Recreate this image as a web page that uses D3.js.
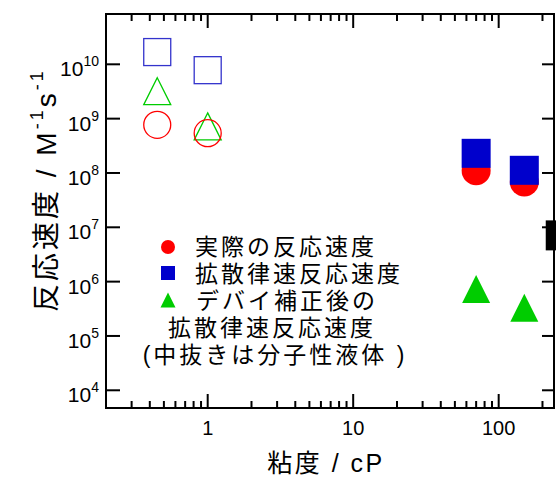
<!DOCTYPE html>
<html>
<head>
<meta charset="utf-8">
<script src="https://cdn.jsdelivr.net/npm/d3@7"></script>
<style>
  html, body { margin: 0; padding: 0; background: #fff; }
  svg { display: block; }
  text { font-family: "Liberation Sans", Arial, "Noto Sans CJK JP", sans-serif; fill: #000; }
  .jp { font-family: "Liberation Sans", "Noto Sans CJK JP", sans-serif; }
</style>
</head>
<body>
<div id="chart"></div>
<script>
// viscosity (cP) and rate constants (M^-1 s^-1)
const molecularViscosity = [0.45, 1.0];
const molecularActual = [7.7e8, 5.4e8];
const molecularDiffusion = [1.68e10, 7.8e9];
const molecularDebye = [3.2e9, 7.2e8];

const ionicViscosity = [70, 150];
const ionicActual = [1.1e8, 6.8e7];
const ionicDiffusion = [2.3e8, 1.12e8];
const ionicDebye = [7.3e5, 3.3e5];

// point sitting past the right edge of the frame
const extraViscosity = [267];
const extraRate = [7.1e6];

const xMajor = [1, 10, 100];
const xMinor = [0.3, 0.4, 0.5, 0.6, 0.7, 0.8, 0.9, 2, 3, 4, 5, 6, 7, 8, 9, 20, 30, 40, 50, 60, 70, 80, 90, 200];
const yMajor = [1e4, 1e5, 1e6, 1e7, 1e8, 1e9, 1e10];

const legendLines = ["実際の反応速度", "拡散律速反応速度", "デバイ補正後の", "拡散律速反応速度", "(中抜きは分子性液体 )"];

const width = 556, height = 477;
const margin = { left: 106, right: 2, top: 14, bottom: 69 };

const red = "#ff0000", blue = "#0000cc", green = "#00cc00";
const openBlue = "#3333cc";

const svg = d3.select("#chart").append("svg")
    .attr("width", width)
    .attr("height", height);

const x = d3.scaleLog()
    .domain([0.2, 240])
    .range([margin.left, width - margin.right]);

const y = d3.scaleLog()
    .domain([Math.pow(10, 3.674), Math.pow(10, 10.926)])
    .range([height - margin.bottom, margin.top]);

const x0 = x.range()[0], x1 = x.range()[1];
const y0 = y.range()[0], y1 = y.range()[1];

// ticks
const axes = svg.append("g").attr("stroke", "#000").attr("stroke-width", 2);

function xTicks(values, len) {
    values.forEach(v => {
        axes.append("line").attr("x1", x(v)).attr("x2", x(v)).attr("y1", y0).attr("y2", y0 - len);
        axes.append("line").attr("x1", x(v)).attr("x2", x(v)).attr("y1", y1).attr("y2", y1 + len);
    });
}
xTicks(xMajor, 14);
xTicks(xMinor, 7);

yMajor.forEach(v => {
    axes.append("line").attr("x1", x0).attr("x2", x0 + 14).attr("y1", y(v)).attr("y2", y(v));
    axes.append("line").attr("x1", x1).attr("x2", x1 - 12).attr("y1", y(v)).attr("y2", y(v));
});

// frame
axes.append("rect")
    .attr("x", x0).attr("y", y1)
    .attr("width", x1 - x0).attr("height", y0 - y1)
    .attr("fill", "none");

// tick labels
svg.append("g").selectAll("text")
    .data(xMajor)
    .enter().append("text")
    .attr("x", d => x(d))
    .attr("y", 435)
    .attr("text-anchor", "middle")
    .attr("font-size", 20)
    .text(d => d);

const yl = svg.append("g").selectAll("text")
    .data(yMajor)
    .enter().append("text")
    .attr("x", 99)
    .attr("y", d => y(d) + 12)
    .attr("text-anchor", "end")
    .attr("font-size", 21);
yl.append("tspan").text("10");
yl.append("tspan").attr("font-size", 14).attr("dy", -10).text(d => Math.round(Math.log10(d)));

// axis titles
svg.append("text")
    .attr("class", "jp")
    .attr("x", 326)
    .attr("y", 472)
    .attr("text-anchor", "middle")
    .attr("font-size", 25)
    .attr("letter-spacing", 2.5)
    .text("粘度 / cP");

const yt = svg.append("text")
    .attr("class", "jp")
    .attr("transform", "translate(56,312) rotate(-90)")
    .attr("font-size", 28)
    .attr("letter-spacing", 3);
yt.append("tspan").text("反応速度 / M");
yt.append("tspan").attr("font-size", 18).attr("dy", -13).text("-1");
yt.append("tspan").attr("dy", 13).text("s");
yt.append("tspan").attr("font-size", 18).attr("dy", -13).text("-1");

// markers
const sq = 27, sqF = 29, tri = 27, triF = 28;

function squares(g, xs, ys, size, fill, stroke) {
    g.selectAll(null).data(xs).enter().append("rect")
        .attr("x", (d, i) => x(d) - size / 2)
        .attr("y", (d, i) => y(ys[i]) - size / 2)
        .attr("width", size).attr("height", size)
        .attr("fill", fill).attr("stroke", stroke).attr("stroke-width", stroke === "none" ? 0 : 1.3);
}
function circles(g, xs, ys, r, fill, stroke) {
    g.selectAll(null).data(xs).enter().append("circle")
        .attr("cx", d => x(d))
        .attr("cy", (d, i) => y(ys[i]))
        .attr("r", r)
        .attr("fill", fill).attr("stroke", stroke).attr("stroke-width", stroke === "none" ? 0 : 1.3);
}
function triPath(cx, cy, s) {
    const h = s;
    return `M${cx},${cy - h / 2}L${cx + s / 2},${cy + h / 2}L${cx - s / 2},${cy + h / 2}Z`;
}
function triangles(g, xs, ys, size, fill, stroke) {
    g.selectAll(null).data(xs).enter().append("path")
        .attr("d", (d, i) => triPath(x(d), y(ys[i]), size))
        .attr("fill", fill).attr("stroke", stroke).attr("stroke-width", stroke === "none" ? 0 : 1.3);
}

const marks = svg.append("g");
squares(marks.append("g"), molecularViscosity, molecularDiffusion, sq, "none", openBlue);
triangles(marks.append("g"), molecularViscosity, molecularDebye, tri, "none", green);
circles(marks.append("g"), molecularViscosity, molecularActual, 13.5, "none", red);

circles(marks.append("g"), ionicViscosity, ionicActual, 14.5, red, "none");
squares(marks.append("g"), ionicViscosity, ionicDiffusion, sqF, blue, "none");
triangles(marks.append("g"), ionicViscosity, ionicDebye, triF, green, "none");

squares(marks.append("g"), extraViscosity, extraRate, 30, "#000", "none");

// legend
const legend = svg.append("g");
legend.append("circle").attr("cx", 168).attr("cy", 247).attr("r", 7).attr("fill", red);
legend.append("rect").attr("x", 161).attr("y", 266).attr("width", 14).attr("height", 14).attr("fill", blue);
legend.append("path").attr("d", triPath(168, 300, 15)).attr("fill", green);

const legendX = [195, 195, 196, 272, 275];
const legendAnchor = ["start", "start", "start", "middle", "middle"];
legend.selectAll("text")
    .data(legendLines)
    .enter().append("text")
    .attr("class", "jp")
    .attr("x", (d, i) => legendX[i])
    .attr("y", (d, i) => 255 + i * 27)
    .attr("text-anchor", (d, i) => legendAnchor[i])
    .attr("font-size", 23)
    .attr("letter-spacing", 3)
    .text(d => d);
</script>
</body>
</html>
